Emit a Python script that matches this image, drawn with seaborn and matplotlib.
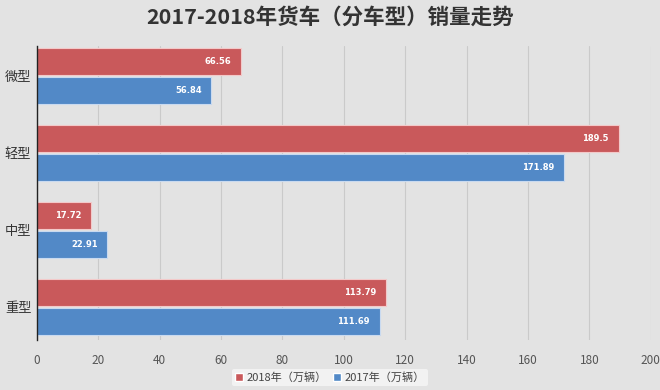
import matplotlib
matplotlib.use("Agg")
import matplotlib.pyplot as plt
import seaborn as sns
import pandas as pd

categories = ["微型", "轻型", "中型", "重型"]
sales_2018 = [66.56, 189.5, 17.72, 113.79]
sales_2017 = [56.84, 171.89, 22.91, 111.69]
series_names = ["2018年（万辆）", "2017年（万辆）"]
x_ticks = [0, 20, 40, 60, 80, 100, 120, 140, 160, 180, 200]
title = "2017-2018年货车（分车型）销量走势"

sns.set_theme(style="white")
plt.rcParams["font.family"] = ["Noto Sans CJK SC", "DejaVu Sans"]

df = pd.DataFrame({
    "车型": categories * 2,
    "销量": sales_2018 + sales_2017,
    "年份": [series_names[0]] * 4 + [series_names[1]] * 4,
})

bg = "#e3e3e3"
fig = plt.figure(figsize=(6.6, 3.9), dpi=100, facecolor=bg)
ax = fig.add_axes([0.056, 0.128, 0.93, 0.754])
ax.set_facecolor(bg)

red = "#c9595b"
blue = "#5289c7"
sns.barplot(data=df, y="车型", x="销量", hue="年份", order=categories,
            hue_order=series_names, palette=[red, blue], orient="h",
            width=0.75, gap=0.05, saturation=1, ax=ax, legend=True)

# light halo edge on bars
for cont, ec in zip(ax.containers, ["#f3c9c9", "#c9daf0"]):
    for p in cont:
        p.set_edgecolor(ec)
        p.set_linewidth(0.8)

for cont, vals in zip(ax.containers, [sales_2018, sales_2017]):
    for p, v in zip(cont, vals):
        ax.annotate(str(v), xy=(p.get_x() + p.get_width(), p.get_y() + p.get_height() / 2),
                    xytext=(-7, 0), textcoords="offset points", ha="right", va="center",
                    color="white", fontsize=6, fontweight="bold",
                    family=["DejaVu Sans"])

ax.set_xlim(0, 200)
ax.set_ylim(3.43, -0.39)
ax.set_xticks(x_ticks)
ax.set_xticklabels([str(t) for t in x_ticks], fontsize=8.5, color="#555555")
ax.tick_params(axis="x", length=8, color="#c4c4c4", width=0.8, pad=2)
ax.tick_params(axis="y", length=0, labelsize=9.5, labelcolor="#333333", pad=4)
ax.xaxis.grid(True, color="#cacaca", linewidth=0.8)
ax.set_axisbelow(True)
for s in ["top", "right", "bottom"]:
    ax.spines[s].set_visible(False)
ax.spines["left"].set_color("#222222")
ax.spines["left"].set_linewidth(1.0)
ax.set_xlabel("")
ax.set_ylabel("")

fig.text(0.5, 0.955, title, ha="center", va="center", fontsize=15.5,
         fontweight="bold", color="#333333")

leg = ax.get_legend()
handles = leg.legend_handles
leg.remove()
fig.legend(handles, series_names, loc="lower center", bbox_to_anchor=(0.5, -0.005),
           ncol=2, fontsize=8, frameon=True, facecolor="#f2f2f2", edgecolor="none",
           handlelength=0.7, handleheight=0.7, handletextpad=0.3,
           columnspacing=0.6, borderpad=0.3, labelcolor="#444444", framealpha=1)

fig.savefig("out.png", dpi=100, facecolor=bg)
